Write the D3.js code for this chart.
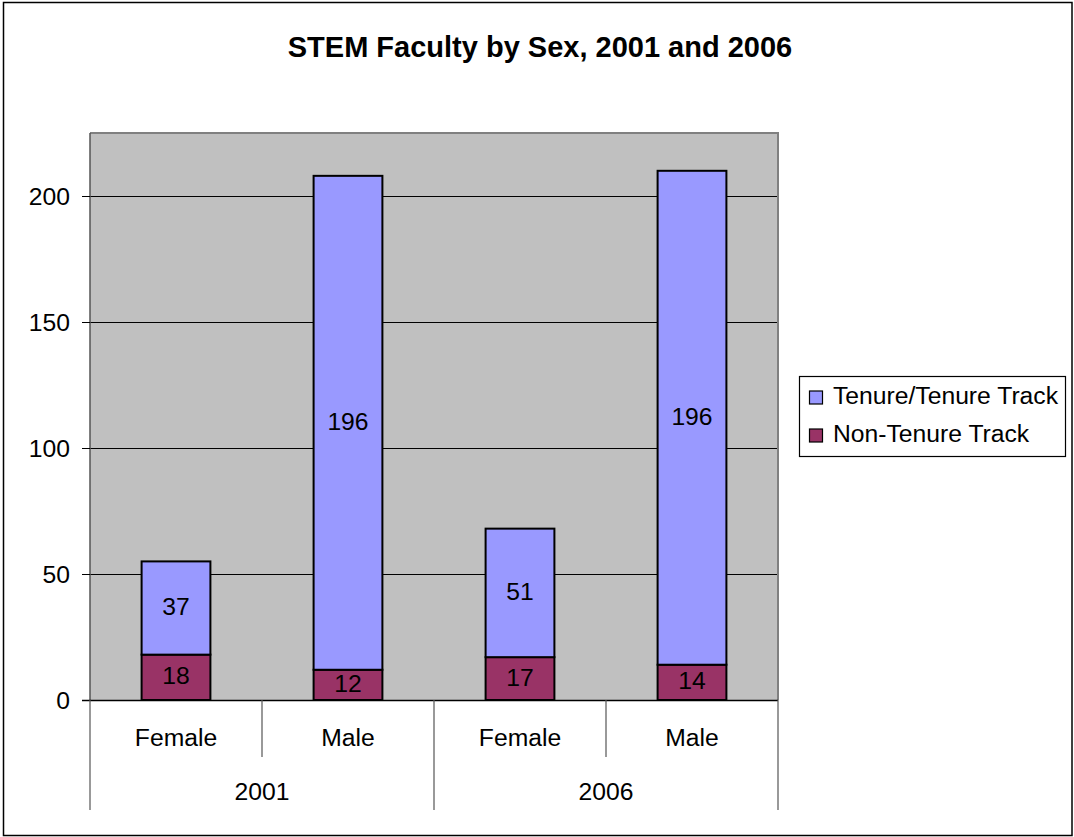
<!DOCTYPE html>
<html>
<head>
<meta charset="utf-8">
<script src="https://cdn.jsdelivr.net/npm/d3@7"></script>
<style>
  html, body { margin: 0; padding: 0; background: #fff; }
  svg { display: block; font-family: "Liberation Sans", Arial, sans-serif; }
</style>
</head>
<body>
<svg id="chart" width="1074" height="837"></svg>
<script>
// ---- data ----
const years = ["2001", "2006"];
const sexes = ["Female", "Male"];
const tenureTrack = [37, 196, 51, 196];
const nonTenureTrack = [18, 12, 17, 14];
const seriesNames = ["Tenure/Tenure Track", "Non-Tenure Track"];
const yTicks = [0, 50, 100, 150, 200];
const title = "STEM Faculty by Sex, 2001 and 2006";

// build table
const rows = [];
years.forEach((yr, i) => sexes.forEach((sx, j) => {
  const k = i * sexes.length + j;
  rows.push({ key: yr + "-" + sx, year: yr, sex: sx, nonTenure: nonTenureTrack[k], tenure: tenureTrack[k] });
}));

const svg = d3.select("#chart");
const plot = { left: 90, right: 778, top: 133, bottom: 700 };
const FS = 24.7;

const colors = { tenure: "#9999FF", nonTenure: "#993366" };

// outer border
svg.append("rect").attr("x", 3.5).attr("y", 2.5).attr("width", 1068.5).attr("height", 833)
  .attr("fill", "#fff").attr("stroke", "#000").attr("stroke-width", 1.5);

// title
svg.append("text").attr("x", 540).attr("y", 57).attr("text-anchor", "middle")
  .attr("font-size", 29).attr("font-weight", "bold").attr("fill", "#000").text(title);

// scales
const x = d3.scaleBand().domain(rows.map(d => d.key)).range([plot.left, plot.right])
  .paddingInner(0.6).paddingOuter(0.3);
const y = d3.scaleLinear().domain([0, 225]).range([plot.bottom, plot.top]);

// plot background
svg.append("rect").attr("x", plot.left).attr("y", plot.top)
  .attr("width", plot.right - plot.left).attr("height", plot.bottom - plot.top)
  .attr("fill", "#C0C0C0");

// gridlines
svg.append("g").selectAll("line").data(yTicks.filter(t => t > 0)).join("line")
  .attr("x1", plot.left).attr("x2", plot.right)
  .attr("y1", d => Math.round(y(d)) + 0.5).attr("y2", d => Math.round(y(d)) + 0.5)
  .attr("stroke", "#000").attr("stroke-width", 1);

// plot border top/right
svg.append("path")
  .attr("d", `M${plot.left},${plot.top} H${plot.right} V${plot.bottom}`)
  .attr("fill", "none").attr("stroke", "#808080").attr("stroke-width", 2);

// stacked bars
const stack = d3.stack().keys(["nonTenure", "tenure"]);
const stacked = stack(rows);
const gBars = svg.append("g");
stacked.forEach(layer => {
  gBars.append("g").selectAll("rect").data(layer).join("rect")
    .attr("x", d => x(d.data.key))
    .attr("width", x.bandwidth())
    .attr("y", d => y(d[1]))
    .attr("height", d => y(d[0]) - y(d[1]))
    .attr("fill", colors[layer.key])
    .attr("stroke", "#000").attr("stroke-width", 2);
});
// labels
stacked.forEach(layer => {
  svg.append("g").selectAll("text").data(layer).join("text")
    .attr("x", d => x(d.data.key) + x.bandwidth() / 2)
    .attr("y", d => (y(d[0]) + y(d[1])) / 2 + 7)
    .attr("text-anchor", "middle").attr("font-size", FS).attr("fill", "#000")
    .text(d => d.data[layer.key]);
});

// y axis
const yAxis = d3.axisLeft(y).tickValues(yTicks).tickSize(8).tickPadding(12);
const gy = svg.append("g").attr("transform", `translate(${plot.left},0)`).call(yAxis);
gy.select(".domain").attr("stroke", "#555").attr("stroke-width", 1.5).attr("d", `M0,${plot.top}V${plot.bottom}`);
gy.selectAll(".tick line").attr("stroke", "#000");
gy.selectAll(".tick text").attr("font-size", FS).attr("fill", "#000")
  .attr("font-family", "Liberation Sans, Arial, sans-serif").attr("dy", "0.35em");

// x axis line
svg.append("line").attr("x1", plot.left - 8).attr("x2", plot.right)
  .attr("y1", plot.bottom + 0.5).attr("y2", plot.bottom + 0.5)
  .attr("stroke", "#000").attr("stroke-width", 1.5);

// category separators
const step = x.step();
const sepXs = d3.range(rows.length + 1).map(i => plot.left + i * step);
svg.append("g").selectAll("line").data(sepXs).join("line")
  .attr("x1", d => d).attr("x2", d => d)
  .attr("y1", plot.bottom)
  .attr("y2", (d, i) => (i % sexes.length === 0) ? 810 : 757)
  .attr("stroke", "#555").attr("stroke-width", 1.2);

// sex labels
svg.append("g").selectAll("text").data(rows).join("text")
  .attr("x", d => x(d.key) + x.bandwidth() / 2).attr("y", 746)
  .attr("text-anchor", "middle").attr("font-size", FS).attr("fill", "#000")
  .text(d => d.sex);

// year labels
svg.append("g").selectAll("text").data(years).join("text")
  .attr("x", (d, i) => plot.left + (i + 0.5) * step * sexes.length).attr("y", 800)
  .attr("text-anchor", "middle").attr("font-size", FS).attr("fill", "#000")
  .text(d => d);

// legend
const lg = svg.append("g");
lg.append("rect").attr("x", 799.5).attr("y", 376.5).attr("width", 266).attr("height", 80)
  .attr("fill", "#fff").attr("stroke", "#000").attr("stroke-width", 1.2);
const legendItems = [{ name: seriesNames[0], key: "tenure" }, { name: seriesNames[1], key: "nonTenure" }];
legendItems.forEach((it, i) => {
  const yy = 391 + i * 38;
  lg.append("rect").attr("x", 809.5).attr("y", yy).attr("width", 13).attr("height", 13)
    .attr("fill", colors[it.key]).attr("stroke", "#000").attr("stroke-width", 1.2);
  lg.append("text").attr("x", 833).attr("y", yy + 13).attr("font-size", FS).attr("fill", "#000")
    .text(it.name);
});
</script>
</body>
</html>
